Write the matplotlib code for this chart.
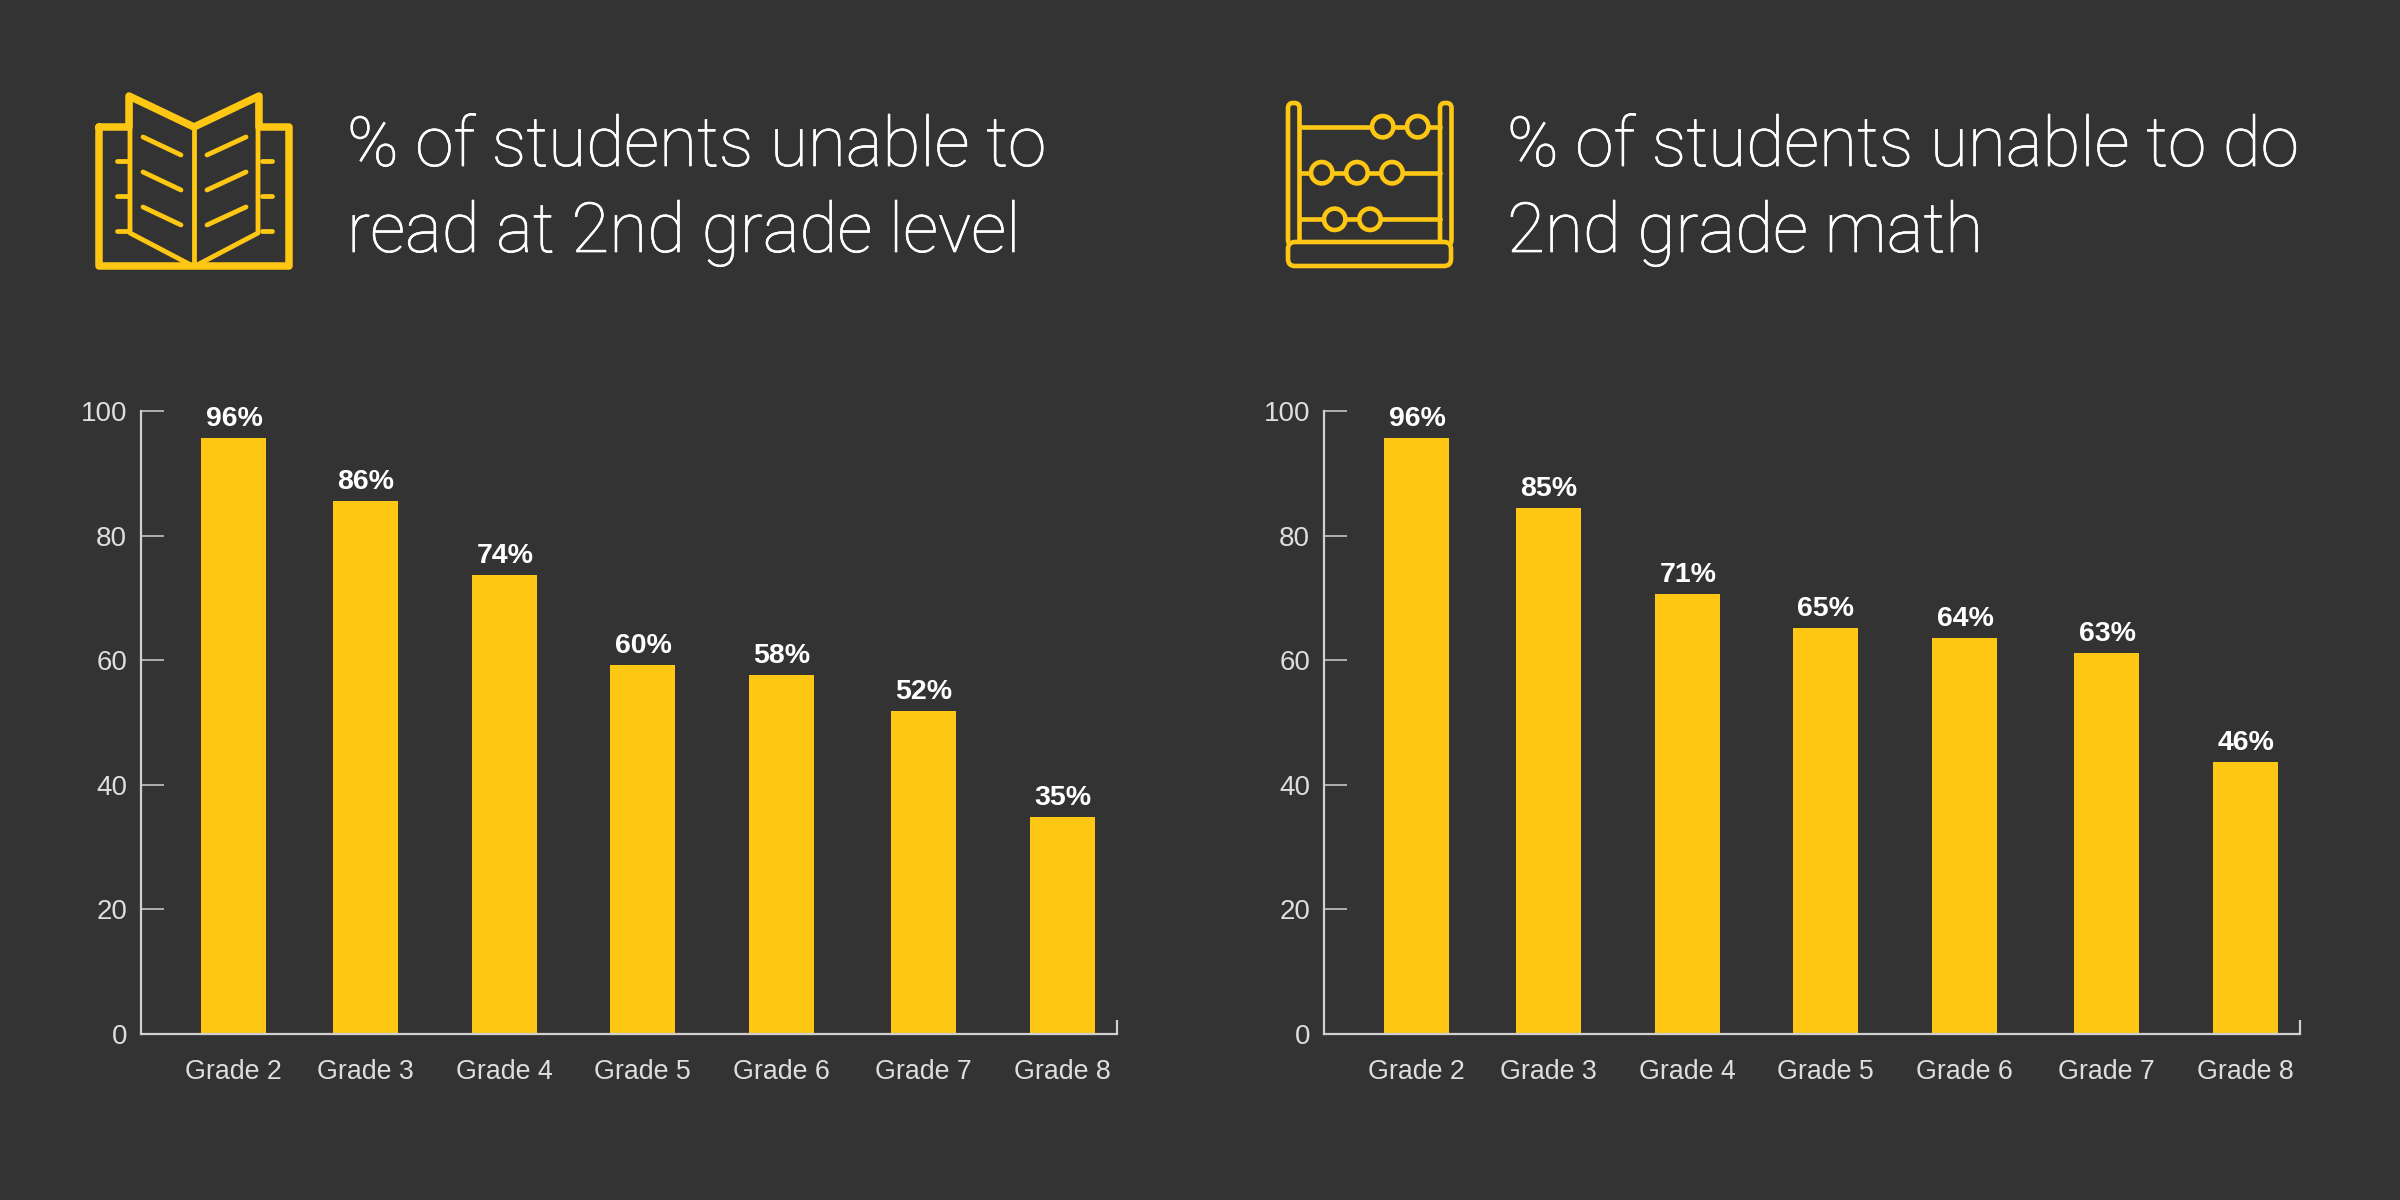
import matplotlib
matplotlib.use('Agg')
import matplotlib.pyplot as plt
import matplotlib.patheffects as pe
from matplotlib.patches import Circle, FancyBboxPatch

# Data
grades = ['Grade 2', 'Grade 3', 'Grade 4', 'Grade 5', 'Grade 6', 'Grade 7', 'Grade 8']
reading = [95.7, 85.6, 73.7, 59.3, 57.7, 51.8, 34.8]
reading_labels = ['96%', '86%', '74%', '60%', '58%', '52%', '35%']
math = [95.7, 84.4, 70.6, 65.2, 63.6, 61.2, 43.6]
math_labels = ['96%', '85%', '71%', '65%', '64%', '63%', '46%']
yticks = [0, 20, 40, 60, 80, 100]

# Layout, in pixels of the 2400x1200 picture
W, H = 2400, 1200
bar_centers = [92, 224, 363, 501, 640, 782, 921]
bar_width = 65
BG = '#333333'
YEL = '#FEC713'
AXC = '#D0D0D0'
LIGHT = 'Roboto'
SMALL = 'Liberation Sans'
px = 0.72  # points per pixel at dpi 100

fig = plt.figure(figsize=(24, 12), dpi=100, facecolor=BG)


def bar_panel(left, values, labels):
    ax = fig.add_axes([left / W, 1 - 1034 / H, 976 / W, 623 / H], facecolor=BG)
    ax.set_xlim(0, 976)
    ax.set_ylim(0, 100)
    ax.bar(bar_centers, values, width=bar_width, color=YEL)
    for x, v, lab in zip(bar_centers, values, labels):
        ax.annotate(lab, (x + 1, v), xytext=(0, 12 * px), textcoords='offset points',
                    ha='center', va='baseline', color='white', fontsize=20.5,
                    family='Liberation Sans', weight='bold')
    for s in ['top', 'right']:
        ax.spines[s].set_visible(False)
    for s in ['left', 'bottom']:
        ax.spines[s].set_color(AXC)
        ax.spines[s].set_linewidth(1.6)
    ax.vlines(976, 0, 2.3, color=AXC, lw=1.6, clip_on=False)
    ax.set_yticks(yticks)
    ax.tick_params(axis='y', direction='in', length=23 * px, width=1.1, color=AXC,
                   labelcolor='#DEDEDE', labelsize=20, pad=10)
    ax.set_xticks(bar_centers, grades)
    ax.tick_params(axis='x', length=0, labelcolor='#DEDEDE', labelsize=19.3, pad=18)
    for t in ax.get_xticklabels() + ax.get_yticklabels():
        t.set_family(SMALL)
    return ax


bar_panel(141, reading, reading_labels)
bar_panel(1324, math, math_labels)

# Overlay in picture pixels for the icons and headings
ov = fig.add_axes([0, 0, 1, 1], facecolor='none')
ov.set_xlim(0, W)
ov.set_ylim(H, 0)
ov.axis('off')

titles = [(347, ['% of students unable to', 'read at 2nd grade level']),
          (1507, ['% of students unable to do', '2nd grade math'])]
thicker = [pe.withStroke(linewidth=0.5, foreground='white')]
for x, lines in titles:
    for y, line in zip([166, 252], lines):
        ov.text(x, y, line, color='white', fontsize=49.9, family=LIGHT, weight='light',
                path_effects=thicker)


def stroke(xs, ys, lw):
    ov.plot(xs, ys, color=YEL, lw=lw * px, solid_capstyle='round', solid_joinstyle='round')


# book icon
stroke([99, 129, 129, 194, 259, 259, 289, 289, 99, 99],
       [127, 127, 96, 127, 96, 127, 127, 266, 266, 127], 7.5)
stroke([194, 194], [127, 266], 4.8)
stroke([130, 130, 189], [96, 233, 264], 4.8)
stroke([258, 258, 199], [96, 233, 264], 4.8)
for dy in [0, 35, 70]:
    stroke([143, 181], [137 + dy, 155 + dy], 4.8)
    stroke([246, 207], [137 + dy, 155 + dy], 4.8)
    stroke([117, 128], [161 + dy, 161 + dy], 4.8)
    stroke([262, 272], [161 + dy, 161 + dy], 4.8)

# abacus icon
for x0 in [1288, 1440]:
    ov.add_patch(FancyBboxPatch((x0 + 3, 106), 5.5, 136, boxstyle='round,pad=3,rounding_size=5',
                                fc='none', ec=YEL, lw=4.6 * px))
ov.add_patch(FancyBboxPatch((1292, 246), 155, 16, boxstyle='round,pad=4,rounding_size=7',
                            fc=BG, ec=YEL, lw=4.6 * px))
for y in [126.7, 172.7, 219.3]:
    stroke([1300, 1440], [y, y], 4.6)
beads = [(1382.7, 126.7), (1417.7, 126.7), (1321.7, 172.7), (1357, 172.7), (1392, 172.7),
         (1334.7, 219.3), (1370, 219.3)]
for c in beads:
    ov.add_patch(Circle(c, 10.7, fc=BG, ec=YEL, lw=4.6 * px, zorder=3))

fig.savefig('out.png', dpi=100, facecolor=BG)
